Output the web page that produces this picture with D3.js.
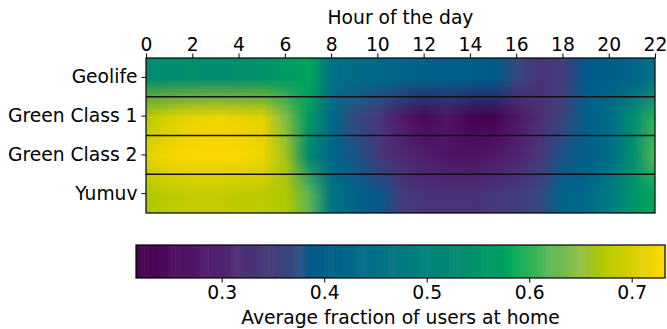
<!DOCTYPE html>
<html>
<head>
<meta charset="utf-8">
<script src="https://cdn.jsdelivr.net/npm/d3@7"></script>
<style>
  body { margin: 0; background: #fff; }
  svg text { font-family: "DejaVu Sans", sans-serif; fill: #000; }
</style>
</head>
<body>
<div id="chart"></div>
<script>
// hours shown on the x axis (one column per hour)
const hours = [0, 1, 2, 3, 4, 5, 6, 7, 8, 9, 10, 11, 12, 13, 14, 15, 16, 17, 18, 19, 20, 21, 22];
const datasets = ['Geolife', 'Green Class 1', 'Green Class 2', 'Yumuv'];

// average fraction of users at home, per hour
const geolife = [0.53, 0.53, 0.54, 0.53, 0.54, 0.55, 0.57, 0.58, 0.45, 0.44, 0.43, 0.42, 0.41, 0.40, 0.40, 0.39, 0.37, 0.33, 0.35, 0.39, 0.40, 0.42, 0.45];
const greenClass1 = [0.68, 0.70, 0.715, 0.72, 0.715, 0.71, 0.64, 0.57, 0.43, 0.37, 0.34, 0.28, 0.235, 0.27, 0.225, 0.22, 0.27, 0.32, 0.36, 0.41, 0.44, 0.53, 0.60];
const greenClass2 = [0.71, 0.725, 0.73, 0.73, 0.73, 0.72, 0.66, 0.52, 0.42, 0.38, 0.34, 0.31, 0.29, 0.27, 0.265, 0.28, 0.30, 0.34, 0.38, 0.40, 0.44, 0.54, 0.62];
const yumuv = [0.67, 0.68, 0.685, 0.685, 0.68, 0.68, 0.67, 0.62, 0.46, 0.42, 0.385, 0.35, 0.33, 0.33, 0.33, 0.34, 0.35, 0.37, 0.42, 0.43, 0.48, 0.55, 0.58];
const rows = [geolife, greenClass1, greenClass2, yumuv];

const xTicks = [0, 2, 4, 6, 8, 10, 12, 14, 16, 18, 20, 22];
const cbTicks = [0.3, 0.4, 0.5, 0.6, 0.7];
const vmin = 0.2164, vmax = 0.7325;

// colormap stops (viridis as it appears in the picture)
const cmapPos = [0, 0.12, 0.19, 0.25, 0.30, 0.315, 0.33, 0.41, 0.50, 0.60, 0.69, 0.71, 0.78, 0.84, 0.88, 0.94, 1];
const cmapCol = ['#47004f', '#52186a', '#4f2c74', '#453a7b', '#344b80', '#1e5488', '#005a8c', '#00688a', '#007a82',
  '#008a72', '#009c62', '#00aa58', '#5cb658', '#90c040', '#b0c800', '#d8d000', '#ffd800'];

const W = 667, H = 329;
const FS = '18.7px';
const plot = { left: 146, right: 655, top: 58, bottom: 213 };
const cb = { left: 136, right: 665, top: 245, bottom: 278 };

const norm = d3.scaleLinear().domain([vmin, vmax]).range([0, 1]).clamp(true);
const cmap = d3.scaleLinear().domain(cmapPos).range(cmapCol).interpolate(d3.interpolateRgb);
const color = v => cmap(norm(v));

const x = d3.scaleLinear().domain([0, 22]).range([plot.left, plot.right]);
const y = d3.scaleBand().domain(datasets).range([plot.top, plot.bottom]);
const cx = d3.scaleLinear().domain([vmin, vmax]).range([cb.left, cb.right]);

const svg = d3.select('#chart').append('svg')
  .attr('width', W)
  .attr('height', H);

// small bitmap, one pixel per cell, stretched smoothly like imshow interpolation
const canvas = document.createElement('canvas');
canvas.width = hours.length;
canvas.height = datasets.length;
const ctx = canvas.getContext('2d');
rows.forEach((vals, r) => {
  vals.forEach((v, c) => {
    ctx.fillStyle = color(v);
    ctx.fillRect(c, r, 1, 1);
  });
});

svg.append('clipPath').attr('id', 'plot-clip')
  .append('rect')
  .attr('x', plot.left).attr('y', plot.top)
  .attr('width', plot.right - plot.left).attr('height', plot.bottom - plot.top);

svg.append('image')
  .attr('href', canvas.toDataURL())
  .attr('x', x(hours[0] - 0.5))
  .attr('width', x(hours[hours.length - 1] + 0.5) - x(hours[0] - 0.5))
  .attr('y', y(datasets[0]))
  .attr('height', y.bandwidth() * datasets.length)
  .attr('preserveAspectRatio', 'none')
  .attr('clip-path', 'url(#plot-clip)');

// row separators
svg.append('g')
  .selectAll('line')
  .data(datasets.slice(1))
  .join('line')
  .attr('x1', plot.left).attr('x2', plot.right)
  .attr('y1', d => y(d)).attr('y2', d => y(d))
  .attr('stroke', '#111')
  .attr('stroke-width', 1.5);

svg.append('rect')
  .attr('x', plot.left).attr('y', plot.top)
  .attr('width', plot.right - plot.left).attr('height', plot.bottom - plot.top)
  .attr('fill', 'none')
  .attr('stroke', '#000')
  .attr('stroke-width', 1.2);

// top axis
const xAxis = svg.append('g')
  .attr('transform', `translate(0,${plot.top})`)
  .call(d3.axisTop(x).tickValues(xTicks).tickSize(4.5).tickPadding(2.5).tickFormat(d3.format('d')));
xAxis.select('.domain').remove();
xAxis.selectAll('text').style('font-size', FS);
xAxis.selectAll('line').attr('stroke', '#000');

svg.append('text')
  .attr('x', (plot.left + plot.right) / 2)
  .attr('y', 24)
  .attr('text-anchor', 'middle')
  .style('font-size', FS)
  .text('Hour of the day');

// left axis
const yAxis = svg.append('g')
  .attr('transform', `translate(${plot.left},0)`)
  .call(d3.axisLeft(y).tickSize(4.5).tickPadding(4));
yAxis.select('.domain').remove();
yAxis.selectAll('text').style('font-size', FS);
yAxis.selectAll('line').attr('stroke', '#000');

// colorbar
const steps = d3.range(256).map(i => vmin + (vmax - vmin) * i / 256);
const stepW = (vmax - vmin) / 256;
svg.append('g')
  .selectAll('rect')
  .data(steps)
  .join('rect')
  .attr('x', d => cx(d))
  .attr('width', d => cx(d + stepW) - cx(d) + 0.5)
  .attr('y', cb.top)
  .attr('height', cb.bottom - cb.top)
  .attr('fill', d => color(d + stepW / 2));

svg.append('rect')
  .attr('x', cb.left).attr('y', cb.top)
  .attr('width', cb.right - cb.left).attr('height', cb.bottom - cb.top)
  .attr('fill', 'none')
  .attr('stroke', '#000')
  .attr('stroke-width', 1.2);

const cAxis = svg.append('g')
  .attr('transform', `translate(0,${cb.bottom})`)
  .call(d3.axisBottom(cx).tickValues(cbTicks).tickSize(4.5).tickPadding(3.5).tickFormat(d3.format('.1f')));
cAxis.select('.domain').remove();
cAxis.selectAll('text').style('font-size', FS);
cAxis.selectAll('line').attr('stroke', '#000');

svg.append('text')
  .attr('x', (cb.left + cb.right) / 2)
  .attr('y', 324)
  .attr('text-anchor', 'middle')
  .style('font-size', FS)
  .text('Average fraction of users at home');
</script>
</body>
</html>
